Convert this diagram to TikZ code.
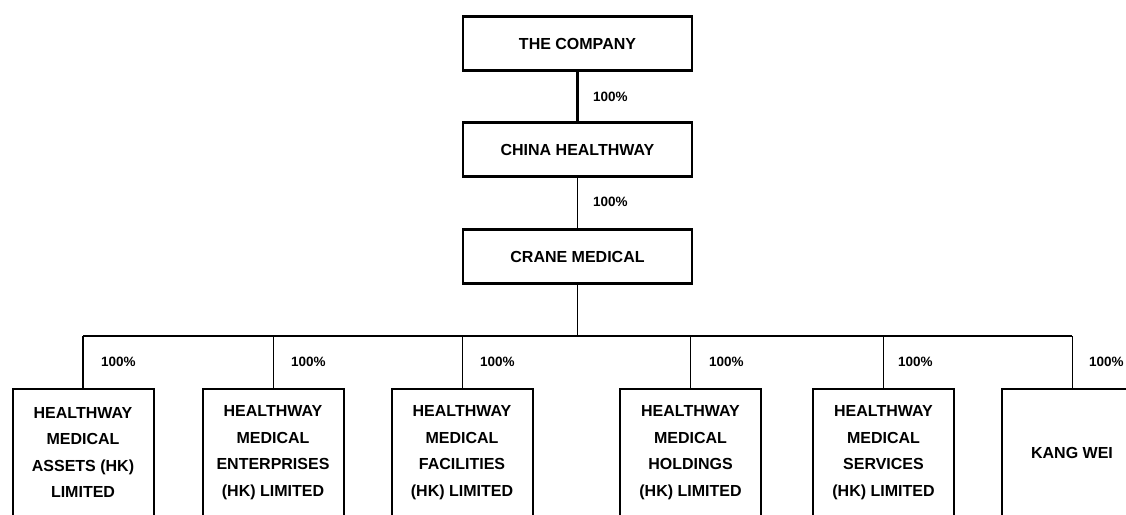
\documentclass[tikz,border=0pt]{standalone}
\usepackage{fontspec}
\setmainfont{Liberation Sans}
\begin{document}
\begin{tikzpicture}[x=1pt,y=-1pt,
  topbox/.style={draw, line width=2.6pt, minimum width=229pt, minimum height=54pt, inner sep=0pt, font=\fontsize{16}{18}\selectfont\bfseries},
  subbox/.style={draw, line width=2pt, minimum width=141pt, minimum height=127pt, inner sep=0pt, align=center, font=\fontsize{16}{26.5}\selectfont\bfseries},
  pct/.style={anchor=west, inner sep=0pt, font=\fontsize{13.5}{16}\selectfont\bfseries},
  thin/.style={line width=1pt},
  thick/.style={line width=2.6pt}]
\useasboundingbox (0,0) rectangle (1126,514);
\clip (0,0) rectangle (1126,514);
\fill[white] (0,0) rectangle (1126,514);

\node[topbox] (company) at (577.5,43.5) {THE COMPANY};
\node[topbox] (china) at (577.5,149.5) {CHINA HEALTHWAY};
\node[topbox] (crane) at (577.5,256.5) {CRANE MEDICAL};

\node[subbox] (b1) at (83,452.5) {HEALTHWAY\\MEDICAL\\ASSETS (HK)\\LIMITED};
\node[subbox] (b2) at (273,452.5) {HEALTHWAY\\MEDICAL\\ENTERPRISES\\(HK) LIMITED};
\node[subbox] (b3) at (462,452.5) {HEALTHWAY\\MEDICAL\\FACILITIES\\(HK) LIMITED};
\node[subbox] (b4) at (690.5,452.5) {HEALTHWAY\\MEDICAL\\HOLDINGS\\(HK) LIMITED};
\node[subbox] (b5) at (883.5,452.5) {HEALTHWAY\\MEDICAL\\SERVICES\\(HK) LIMITED};
\node[subbox] (b6) at (1072,452.5) {KANG WEI};

\draw[thick] (company) -- (china);
\draw[thin] (china) -- (crane);

\coordinate (busL) at (83,336);
\coordinate (busR) at (1072,336);
\draw[thin] (crane.south) -- (crane.south |- busL);
\draw[line width=1.6pt] (busL) -- (busR);
\draw[line width=1.6pt] (busL) -- (b1.north);
\foreach \b in {b2,b3,b4,b5,b6}{
  \draw[thin] (\b.north |- busL) -- (\b.north);
}

\node[pct] (p0) at (593,97) {100\%};
\node[pct] (p1) at (593,202) {100\%};
\node[pct] (q1) at (101,362) {100\%};
\node[pct] (q2) at (291,362) {100\%};
\node[pct] (q3) at (480,362) {100\%};
\node[pct] (q4) at (709,362) {100\%};
\node[pct] (q5) at (898,362) {100\%};
\node[pct] (q6) at (1089,362) {100\%};
\end{tikzpicture}
\end{document}
